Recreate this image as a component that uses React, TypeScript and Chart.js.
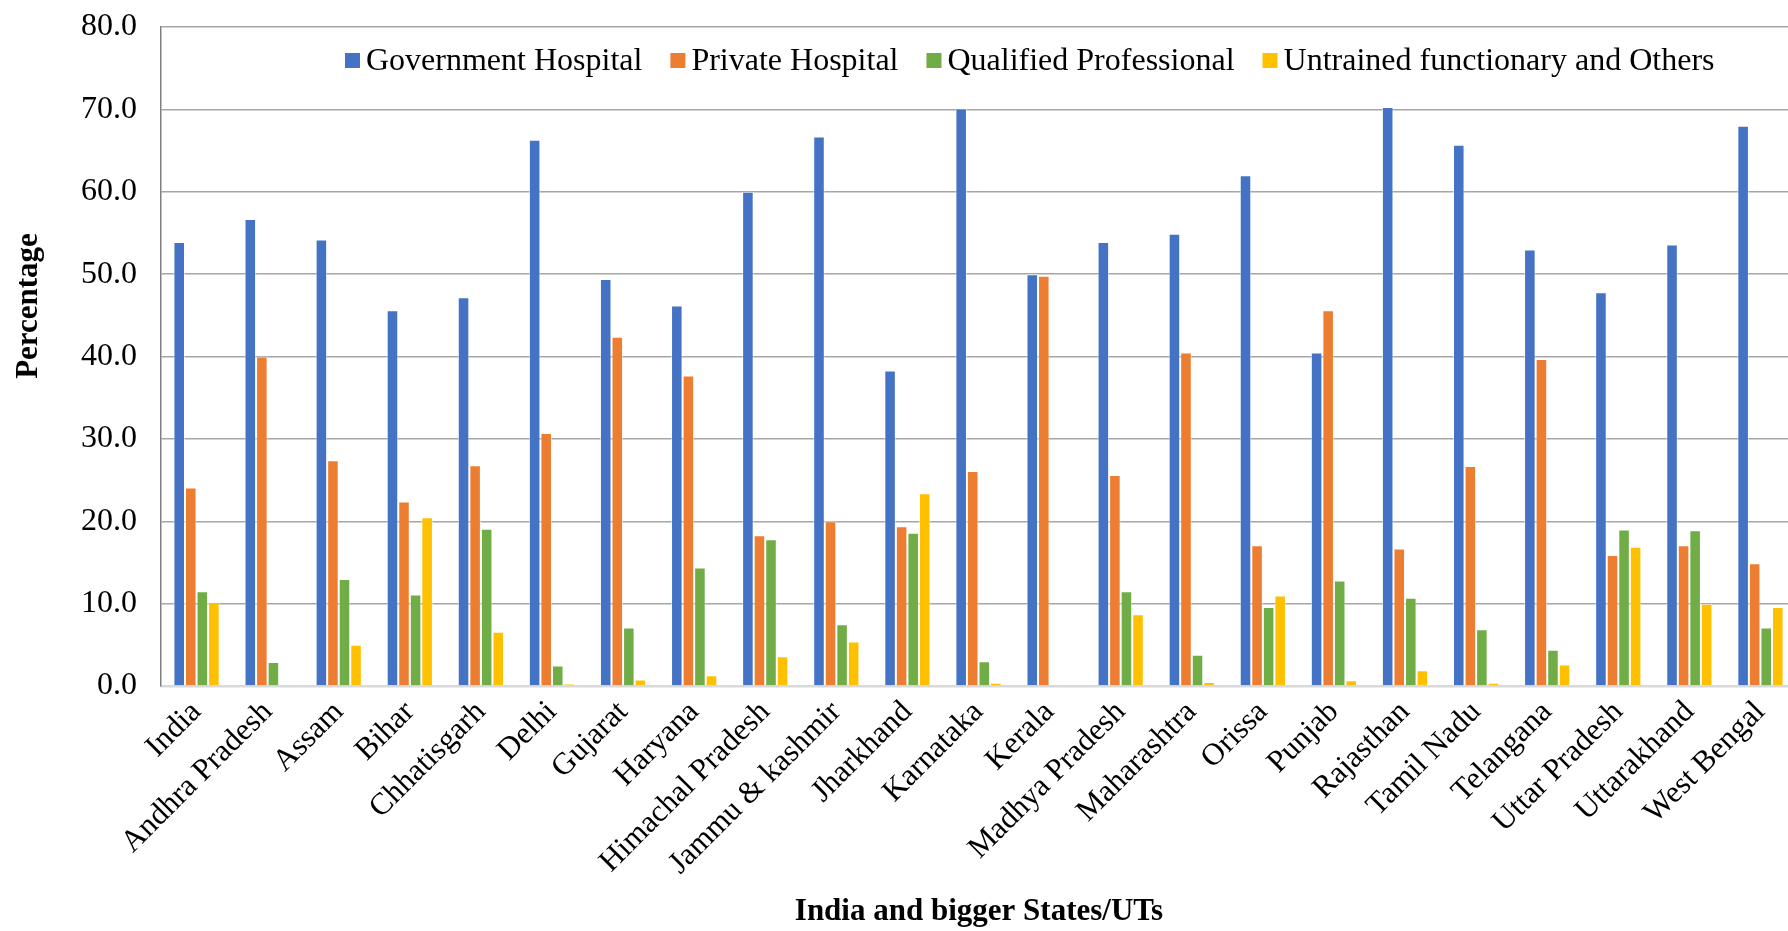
import React, { useEffect, useRef } from "react";
import { Chart, registerables } from "chart.js";

Chart.register(...registerables);

const categories = [
  "India", "Andhra Pradesh", "Assam", "Bihar", "Chhatisgarh", "Delhi", "Gujarat", "Haryana",
  "Himachal Pradesh", "Jammu & kashmir", "Jharkhand", "Karnataka", "Kerala", "Madhya Pradesh",
  "Maharashtra", "Orissa", "Punjab", "Rajasthan", "Tamil Nadu", "Telangana", "Uttar Pradesh",
  "Uttarakhand", "West Bengal",
];
const governmentHospital = [53.9, 56.7, 54.2, 45.6, 47.2, 66.3, 49.4, 46.2, 60.0, 66.7, 38.3, 70.1, 50.0, 53.9, 54.9, 62.0, 40.5, 70.3, 65.7, 53.0, 47.8, 53.6, 68.0];
const privateHospital = [24.1, 40.0, 27.4, 22.4, 26.8, 30.7, 42.4, 37.7, 18.3, 20.0, 19.4, 26.1, 49.8, 25.6, 40.5, 17.1, 45.6, 16.7, 26.7, 39.7, 15.9, 17.1, 14.9];
const qualifiedProfessional = [11.5, 2.9, 13.0, 11.1, 19.1, 2.5, 7.1, 14.4, 17.8, 7.5, 18.6, 3.0, 0.1, 11.5, 3.8, 9.6, 12.8, 10.7, 6.9, 4.4, 19.0, 18.9, 7.1];
const untrainedOthers = [10.2, 0.1, 5.0, 20.5, 6.6, 0.3, 0.8, 1.3, 3.6, 5.4, 23.4, 0.4, 0.1, 8.7, 0.5, 11.0, 0.7, 1.9, 0.4, 2.6, 16.9, 10.0, 9.6];

const seriesNames = ["Government Hospital", "Private Hospital", "Qualified Professional", "Untrained functionary and Others"];
const seriesColors = ["#4472C4", "#ED7D31", "#70AD47", "#FFC000"];
const yTicks = [0, 10, 20, 30, 40, 50, 60, 70, 80];
const xTitle = "India and bigger States/UTs";
const yTitle = "Percentage";

const SERIF = "'Liberation Serif', 'Times New Roman', serif";

const overlayPlugin = {
  id: "overlay",
  afterDraw(chart: any) {
    const ctx = chart.ctx;
    ctx.save();
    // legend inside plot area
    ctx.font = `32px ${SERIF}`;
    ctx.textBaseline = "middle";
    ctx.textAlign = "left";
    let x = 345;
    const y = 61;
    seriesNames.forEach((name, i) => {
      ctx.fillStyle = seriesColors[i];
      ctx.fillRect(x, y - 8, 15, 15);
      ctx.fillStyle = "#000";
      ctx.fillText(name, x + 21, y + 1);
      x += 21 + ctx.measureText(name).width + 28;
    });
    // x title
    ctx.font = `bold 31px ${SERIF}`;
    ctx.textAlign = "center";
    ctx.fillText(xTitle, 979, 912);
    // y title
    ctx.translate(29, 306);
    ctx.rotate(-Math.PI / 2);
    ctx.fillText(yTitle, 0, 0);
    ctx.restore();
  },
};

export default function App() {
  const ref = useRef<HTMLCanvasElement>(null);
  useEffect(() => {
    if (!ref.current) return;
    const chart = new Chart(ref.current, {
      type: "bar",
      data: {
        labels: categories,
        datasets: [governmentHospital, privateHospital, qualifiedProfessional, untrainedOthers].map((d, i) => ({
          label: seriesNames[i],
          data: d,
          backgroundColor: seriesColors[i],
          borderColor: "rgba(255,255,255,0.55)",
          borderWidth: 1,
          categoryPercentage: 0.65,
          barPercentage: 1,
        })),
      },
      options: {
        animation: false,
        responsive: false,
        maintainAspectRatio: false,
        layout: { padding: { top: 27, right: 4, left: 0, bottom: 0 } },
        plugins: { legend: { display: false }, tooltip: { enabled: false } },
        scales: {
          x: {
            grid: { display: false, drawTicks: false },
            border: { display: true, color: "#D9D9D9", width: 2.5 },
            ticks: {
              color: "#000",
              font: { family: SERIF, size: 31 },
              minRotation: 45,
              maxRotation: 45,
              autoSkip: false,
              padding: 8,
            },
            afterFit(scale: any) {
              scale.height = 245;
              scale.paddingLeft = 0;
              scale.paddingRight = 0;
              scale.paddingTop = 0;
              scale.paddingBottom = 0;
            },
          },
          y: {
            min: 0,
            max: 80,
            afterBuildTicks(scale: any) {
              scale.ticks = yTicks.map((v) => ({ value: v }));
            },
            grid: { color: "#A6A6A6", lineWidth: 1.5, drawTicks: false },
            border: { display: true, color: "#7F7F7F", width: 1.5 },
            ticks: {
              color: "#000",
              font: { family: SERIF, size: 32 },
              padding: 24,
              callback: (v: any) => Number(v).toFixed(1),
            },
            afterFit(scale: any) {
              scale.width = 161;
              scale.paddingTop = 0;
              scale.paddingBottom = 0;
              scale.paddingLeft = 0;
              scale.paddingRight = 0;
            },
          },
        },
      },
      plugins: [overlayPlugin],
    });
    return () => chart.destroy();
  }, []);
  return (
    <div style={{ position: "absolute", left: 0, top: 0, width: 1788, height: 931, overflow: "hidden", background: "#fff" }}>
      <canvas ref={ref} width={1800} height={931} style={{ display: "block" }} />
    </div>
  );
}
